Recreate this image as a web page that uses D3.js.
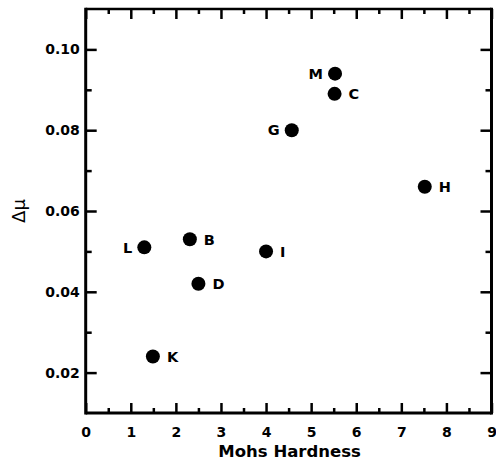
<!DOCTYPE html>
<html><head><meta charset="utf-8">
<script src="https://cdn.jsdelivr.net/npm/d3@7"></script>
<style>
html,body{margin:0;padding:0;background:#fff;}
svg{display:block;}
text{font-family:"DejaVu Sans",sans-serif;font-weight:bold;fill:#000;}
</style></head>
<body>
<script>
// ---- data ----
const labels   = ["M","C","G","H","B","L","I","D","K"];
const hardness = [5.53,5.52,4.57,7.52,2.31,1.30,4.00,2.50,1.49];
const deltaMu  = [0.094,0.089,0.080,0.066,0.053,0.051,0.050,0.042,0.024];
const leftLabels = ["M","G","L"];
const xTicks = [0,1,2,3,4,5,6,7,8,9];
const xMinorTicks = [0.5,1.5,2.5,3.5,4.5,5.5,6.5,7.5,8.5];
const yTicks = [0.02,0.04,0.06,0.08,0.10];
const yMinorTicks = [0.03,0.05,0.07,0.09];
const xTitle = "Mohs Hardness";
const yTitle = "Δμ";

const W = 496, H = 464;
const pL = 85.7, pR = 491.5, pT = 9, pB = 413;

const svg = d3.select("body").append("svg").attr("width", W).attr("height", H);
const x = d3.scaleLinear().domain([0, 9]).range([pL, pR]);
const y = d3.scaleLinear().domain([0.01, 0.11]).range([pB, pT]);

function styleAxis(g, w) {
  g.select(".domain").remove();
  g.selectAll(".tick line").attr("stroke", "#000").attr("stroke-width", w);
}

// bottom axis
svg.append("g").attr("transform", `translate(0,${pB})`)
  .call(d3.axisBottom(x).tickValues(xTicks).tickSize(-10).tickPadding(14).tickFormat(d3.format("d")))
  .call(g => { styleAxis(g, 2.5); g.selectAll("text").style("font-size", "14px").style("font-family", "DejaVu Sans").style("font-weight", "bold"); });
svg.append("g").attr("transform", `translate(0,${pB})`)
  .call(d3.axisBottom(x).tickValues(xMinorTicks).tickSize(-5).tickFormat(""))
  .call(g => styleAxis(g, 2.5));
// top axis
svg.append("g").attr("transform", `translate(0,${pT})`)
  .call(d3.axisTop(x).tickValues(xTicks).tickSize(-10).tickFormat(""))
  .call(g => styleAxis(g, 2.5));
svg.append("g").attr("transform", `translate(0,${pT})`)
  .call(d3.axisTop(x).tickValues(xMinorTicks).tickSize(-5).tickFormat(""))
  .call(g => styleAxis(g, 2.5));
// left axis
svg.append("g").attr("transform", `translate(${pL},0)`)
  .call(d3.axisLeft(y).tickValues(yTicks).tickSize(-11).tickPadding(6).tickFormat(d3.format(".2f")))
  .call(g => { styleAxis(g, 2.5); g.selectAll("text").style("font-size", "14px").style("font-family", "DejaVu Sans").style("font-weight", "bold"); });
svg.append("g").attr("transform", `translate(${pL},0)`)
  .call(d3.axisLeft(y).tickValues(yMinorTicks).tickSize(-6).tickFormat(""))
  .call(g => styleAxis(g, 2.5));
// right axis
svg.append("g").attr("transform", `translate(${pR},0)`)
  .call(d3.axisRight(y).tickValues(yTicks).tickSize(-11).tickFormat(""))
  .call(g => styleAxis(g, 2.5));
svg.append("g").attr("transform", `translate(${pR},0)`)
  .call(d3.axisRight(y).tickValues(yMinorTicks).tickSize(-6).tickFormat(""))
  .call(g => styleAxis(g, 2.5));

// frame
svg.append("line").attr("x1", pL).attr("x2", pR).attr("y1", pB).attr("y2", pB).attr("stroke", "#000").attr("stroke-width", 3);
svg.append("line").attr("x1", pL).attr("x2", pR).attr("y1", pT).attr("y2", pT).attr("stroke", "#000").attr("stroke-width", 2.5);
svg.append("line").attr("x1", pL).attr("x2", pL).attr("y1", pT - 1.25).attr("y2", pB + 1.5).attr("stroke", "#000").attr("stroke-width", 3);
svg.append("line").attr("x1", pR).attr("x2", pR).attr("y1", pT - 1.25).attr("y2", pB + 1.5).attr("stroke", "#000").attr("stroke-width", 3);

// points
const pts = labels.map((l, i) => ({ label: l, hx: hardness[i], dm: deltaMu[i] }));
svg.append("g").selectAll("circle").data(pts).join("circle")
  .attr("cx", d => x(d.hx)).attr("cy", d => y(d.dm)).attr("r", 7).attr("fill", "#000");
svg.append("g").selectAll("text").data(pts).join("text")
  .attr("x", d => x(d.hx) + (leftLabels.includes(d.label) ? -12 : 14))
  .attr("y", d => y(d.dm))
  .attr("dy", "0.36em")
  .attr("text-anchor", d => leftLabels.includes(d.label) ? "end" : "start")
  .style("font-size", "14.5px")
  .text(d => d.label);

// titles
svg.append("text").attr("x", (pL + pR) / 2 + 1).attr("y", 457)
  .attr("text-anchor", "middle").style("font-size", "16.5px").text(xTitle);
svg.append("text").attr("transform", `translate(25,211) rotate(-90)`)
  .attr("text-anchor", "middle").style("font-size", "18px").style("font-weight", "normal").text(yTitle);
</script>
</body></html>
